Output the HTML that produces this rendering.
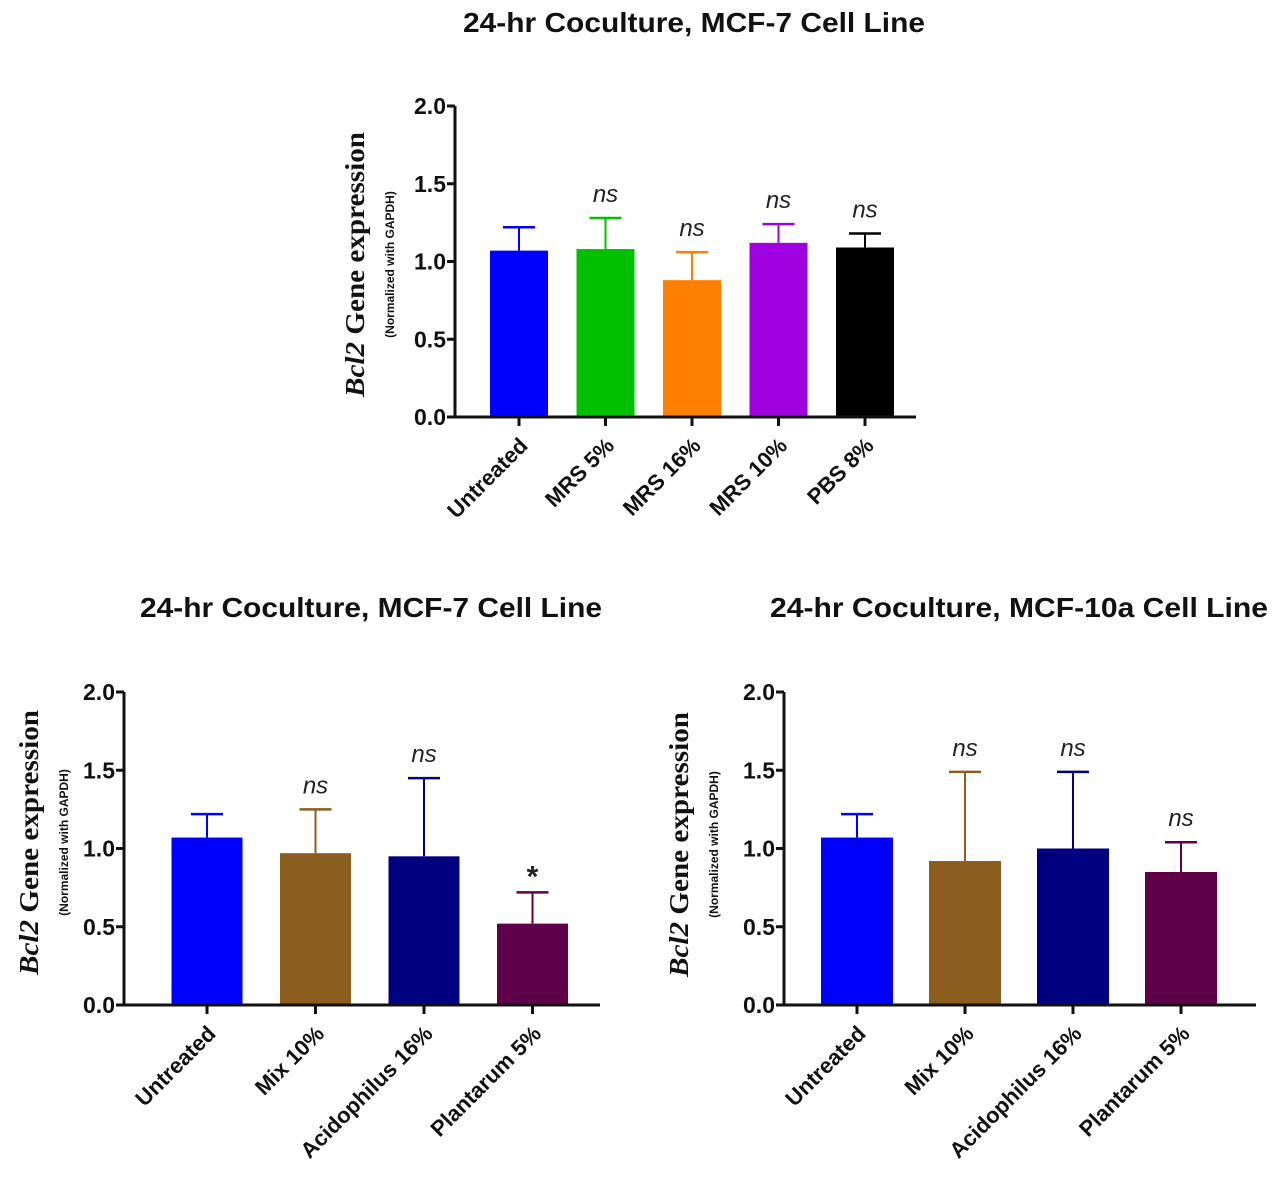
<!DOCTYPE html>
<html><head><meta charset="utf-8">
<style>
html,body{margin:0;padding:0;background:#fff;}
svg{display:block;}
.t{font-family:"Liberation Sans Narrow","Liberation Sans",Arial,sans-serif;font-weight:bold;}
</style></head>
<body>
<svg id="svg" width="1280" height="1179" viewBox="0 0 1280 1179" xmlns="http://www.w3.org/2000/svg"></svg>
<script>
// Chart A: top
const catsA = ["Untreated","MRS 5%","MRS 16%","MRS 10%","PBS 8%"];
const valsA = [1.07,1.08,0.88,1.12,1.09];
const errA  = [1.22,1.28,1.06,1.24,1.18];
const sigA  = ["","ns","ns","ns","ns"];
const colA  = ["#0000ff","#00c000","#ff8000","#a000e0","#000000"];
// Chart B: bottom left
const catsB = ["Untreated","Mix 10%","Acidophilus 16%","Plantarum 5%"];
const valsB = [1.07,0.97,0.95,0.52];
const errB  = [1.22,1.25,1.45,0.72];
const sigB  = ["","ns","ns","*"];
// Chart C: bottom right
const catsC = ["Untreated","Mix 10%","Acidophilus 16%","Plantarum 5%"];
const valsC = [1.07,0.92,1.00,0.85];
const errC  = [1.22,1.49,1.49,1.04];
const sigC  = ["","ns","ns","ns"];
const colBC = ["#0000ff","#8b5e20","#000080","#600048"];
const ticks = [0,0.5,1.0,1.5,2.0];

const NS="http://www.w3.org/2000/svg";
const svg=document.getElementById('svg');
function mk(tag,attrs,parent){const e=document.createElementNS(NS,tag);for(const k in attrs)e.setAttribute(k,attrs[k]);(parent||svg).appendChild(e);return e;}

function chart(o){
  const g=mk('g',{});
  
  
  const y=v=>o.y0-(v/2)*(o.y0-o.y2);
  const n=o.cats.length;
  const x=i=>o.first+i*o.step;
  const t=mk('text',{x:o.tx,y:o.ty,'text-anchor':'middle','font-size':28,class:'t',fill:'#111',textLength:o.tw,lengthAdjust:'spacingAndGlyphs'},g);
  t.textContent=o.title;
  
  
  for(let i=0;i<n;i++){
    const cx=x(i);
    const er=mk('line',{x1:cx,x2:cx,y1:y(o.vals[i]),y2:y(o.err[i]),stroke:o.cols[i],'stroke-width':2},g);
    
    
    const cap=mk('line',{x1:cx-16,x2:cx+16,y1:y(o.err[i]),y2:y(o.err[i]),stroke:o.cols[i],'stroke-width':2.5},g);
    
    
    const b=mk('rect',{x:cx-o.bw/2,y:y(o.vals[i]),width:o.bw,height:o.y0-y(o.vals[i]),fill:o.cols[i]},g);
    
    
    if(o.sig[i]){
      const star=o.sig[i]==='*';
      const s=mk('text',{x:cx,y:y(o.err[i])-(star?6:16),'text-anchor':'middle','font-size':star?30:24,'font-family':'"Liberation Sans",Arial,sans-serif','font-style':star?'normal':'italic','font-weight':star?'bold':'normal',fill:'#222'},g);
      s.textContent=o.sig[i];
      
      
    }
    const tk=mk('line',{x1:cx,x2:cx,y1:o.y0,y2:o.y0+9,stroke:'#111','stroke-width':3},g);
    
    
    const lb=mk('text',{x:0,y:0,'text-anchor':'end','font-size':22,class:'t',fill:'#111',transform:`translate(${cx+10},${o.y0+30}) rotate(-45)`},g);
    lb.textContent=o.cats[i];
    
    
  }
  const ya=mk('line',{x1:o.ax,x2:o.ax,y1:o.y2,y2:o.y0+1,stroke:'#111','stroke-width':3},g);
  
  
  const xa=mk('line',{x1:o.ax-8,x2:o.axEnd,y1:o.y0,y2:o.y0,stroke:'#111','stroke-width':3},g);
  
  
  ticks.forEach(v=>{
    const tl=mk('line',{x1:o.ax-8,x2:o.ax,y1:y(v),y2:y(v),stroke:'#111','stroke-width':3},g);
    
    
    const tt=mk('text',{x:o.ax-9,y:y(v)+8,'text-anchor':'end','font-size':23,class:'t',fill:'#111'},g);
    tt.textContent=v.toFixed(1);
    
    
  });
  const cy=(o.y0+o.y2)/2+o.yoff;
  const yt=mk('text',{x:0,y:0,'text-anchor':'middle','font-size':27,'font-weight':'bold','font-family':'"Liberation Serif","Times New Roman",serif',fill:'#111',textLength:265,lengthAdjust:'spacingAndGlyphs',transform:`translate(${o.ytx},${cy}) rotate(-90)`},g);
  yt.innerHTML='<tspan font-style="italic">Bcl2</tspan> Gene expression';
  
  
  const ys=mk('text',{x:0,y:0,'text-anchor':'middle','font-size':12,class:'t',fill:'#111',transform:`translate(${o.ytx+30},${cy}) rotate(-90)`},g);
  ys.textContent='(Normalized with GAPDH)';
  
  
}

chart({name:'chart-top-mcf7',title:'24-hr Coculture, MCF-7 Cell Line',tx:694,ty:32,tw:462,cats:catsA,vals:valsA,err:errA,sig:sigA,cols:colA,
  ax:455,axEnd:916,y0:417,y2:106,first:519,step:86.5,bw:58,ytx:364,yoff:3});
chart({name:'chart-bottom-left-mcf7',title:'24-hr Coculture, MCF-7 Cell Line',tx:371,ty:617,tw:462,cats:catsB,vals:valsB,err:errB,sig:sigB,cols:colBC,
  ax:124,axEnd:600,y0:1005,y2:692,first:207,step:108.5,bw:71,ytx:38,yoff:-6});
chart({name:'chart-bottom-right-mcf10a',title:'24-hr Coculture, MCF-10a Cell Line',tx:1019,ty:617,tw:498,cats:catsC,vals:valsC,err:errC,sig:sigC,cols:colBC,
  ax:784,axEnd:1256,y0:1005,y2:692,first:857,step:108,bw:72,ytx:688,yoff:-4});
</script>
</body></html>
